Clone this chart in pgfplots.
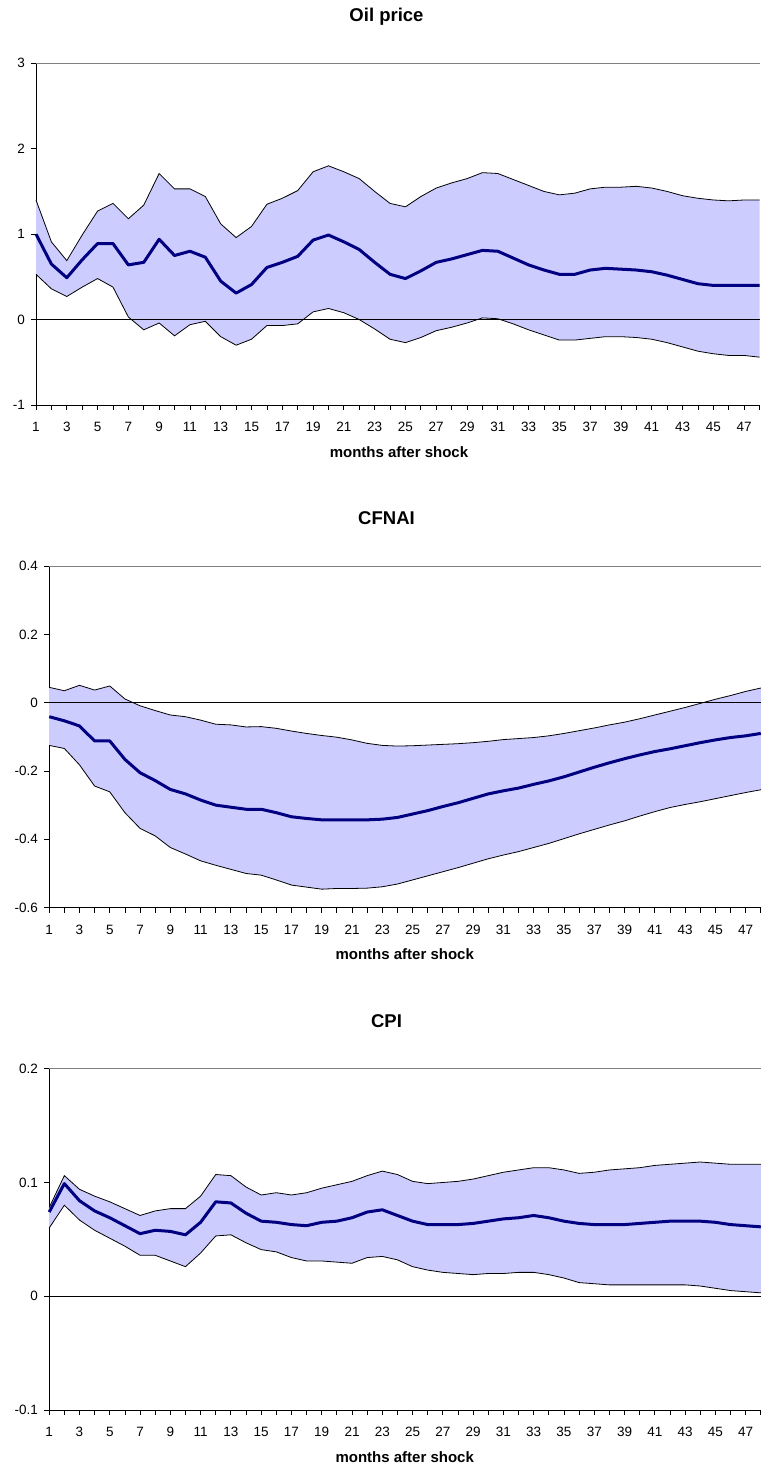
\documentclass[border=0pt]{standalone}
\usepackage{fontspec}
\setmainfont{Liberation Sans}
\usepackage{pgfplots}
\pgfplotsset{compat=1.18}
\usepackage{pgfplotstable}
\usepgfplotslibrary{fillbetween}
\definecolor{bandfill}{RGB}{204,204,255}
\definecolor{navyline}{RGB}{0,0,128}
\definecolor{topgray}{RGB}{128,128,128}

\pgfplotstableread{
m u c l
1 1.40 1.00 0.53
2 0.91 0.65 0.36
3 0.69 0.49 0.27
4 0.99 0.70 0.38
5 1.27 0.89 0.48
6 1.36 0.89 0.38
7 1.18 0.64 0.03
8 1.34 0.67 -0.12
9 1.71 0.94 -0.04
10 1.53 0.75 -0.19
11 1.53 0.80 -0.06
12 1.44 0.73 -0.02
13 1.12 0.45 -0.20
14 0.96 0.31 -0.30
15 1.09 0.41 -0.23
16 1.35 0.61 -0.07
17 1.42 0.67 -0.07
18 1.51 0.74 -0.05
19 1.73 0.93 0.09
20 1.80 0.99 0.13
21 1.73 0.91 0.08
22 1.65 0.82 0.00
23 1.50 0.67 -0.11
24 1.36 0.53 -0.23
25 1.32 0.48 -0.27
26 1.44 0.57 -0.21
27 1.54 0.67 -0.13
28 1.60 0.71 -0.09
29 1.65 0.76 -0.04
30 1.72 0.81 0.02
31 1.71 0.80 0.01
32 1.64 0.72 -0.05
33 1.57 0.64 -0.12
34 1.50 0.58 -0.18
35 1.46 0.53 -0.24
36 1.48 0.53 -0.24
37 1.53 0.58 -0.22
38 1.55 0.60 -0.20
39 1.55 0.59 -0.20
40 1.56 0.58 -0.21
41 1.54 0.56 -0.23
42 1.50 0.52 -0.27
43 1.45 0.47 -0.32
44 1.42 0.42 -0.37
45 1.40 0.40 -0.40
46 1.39 0.40 -0.42
47 1.40 0.40 -0.42
48 1.40 0.40 -0.44
}\oil

\pgfplotstableread{
m u c l
1 0.045 -0.041 -0.125
2 0.035 -0.053 -0.134
3 0.051 -0.068 -0.182
4 0.037 -0.112 -0.244
5 0.049 -0.112 -0.261
6 0.011 -0.166 -0.322
7 -0.009 -0.205 -0.368
8 -0.023 -0.228 -0.390
9 -0.036 -0.254 -0.424
10 -0.041 -0.267 -0.443
11 -0.051 -0.285 -0.463
12 -0.063 -0.300 -0.476
13 -0.065 -0.306 -0.488
14 -0.071 -0.312 -0.500
15 -0.070 -0.312 -0.505
16 -0.075 -0.322 -0.519
17 -0.083 -0.334 -0.534
18 -0.090 -0.339 -0.540
19 -0.096 -0.343 -0.546
20 -0.101 -0.343 -0.544
21 -0.109 -0.343 -0.544
22 -0.119 -0.343 -0.543
23 -0.125 -0.341 -0.539
24 -0.127 -0.336 -0.531
25 -0.126 -0.326 -0.519
26 -0.124 -0.316 -0.507
27 -0.122 -0.304 -0.495
28 -0.120 -0.293 -0.483
29 -0.117 -0.280 -0.470
30 -0.113 -0.267 -0.457
31 -0.108 -0.258 -0.446
32 -0.105 -0.250 -0.436
33 -0.102 -0.239 -0.424
34 -0.097 -0.229 -0.412
35 -0.090 -0.217 -0.398
36 -0.082 -0.203 -0.384
37 -0.074 -0.189 -0.371
38 -0.065 -0.176 -0.358
39 -0.057 -0.164 -0.346
40 -0.047 -0.153 -0.332
41 -0.036 -0.143 -0.319
42 -0.025 -0.135 -0.307
43 -0.014 -0.126 -0.298
44 -0.002 -0.117 -0.290
45 0.010 -0.109 -0.281
46 0.021 -0.102 -0.272
47 0.033 -0.097 -0.263
48 0.043 -0.090 -0.255
}\cfnai

\pgfplotstableread{
m u c l
1 0.078 0.074 0.060
2 0.106 0.099 0.080
3 0.094 0.084 0.067
4 0.088 0.075 0.058
5 0.083 0.069 0.051
6 0.077 0.062 0.044
7 0.071 0.055 0.036
8 0.075 0.058 0.036
9 0.077 0.057 0.031
10 0.077 0.054 0.026
11 0.088 0.065 0.038
12 0.107 0.083 0.053
13 0.106 0.082 0.054
14 0.096 0.073 0.047
15 0.089 0.066 0.041
16 0.091 0.065 0.039
17 0.089 0.063 0.034
18 0.091 0.062 0.031
19 0.095 0.065 0.031
20 0.098 0.066 0.030
21 0.101 0.069 0.029
22 0.106 0.074 0.034
23 0.110 0.076 0.035
24 0.107 0.071 0.032
25 0.101 0.066 0.026
26 0.099 0.063 0.023
27 0.100 0.063 0.021
28 0.101 0.063 0.020
29 0.103 0.064 0.019
30 0.106 0.066 0.020
31 0.109 0.068 0.020
32 0.111 0.069 0.021
33 0.113 0.071 0.021
34 0.113 0.069 0.019
35 0.111 0.066 0.016
36 0.108 0.064 0.012
37 0.109 0.063 0.011
38 0.111 0.063 0.010
39 0.112 0.063 0.010
40 0.113 0.064 0.010
41 0.115 0.065 0.010
42 0.116 0.066 0.010
43 0.117 0.066 0.010
44 0.118 0.066 0.009
45 0.117 0.065 0.007
46 0.116 0.063 0.005
47 0.116 0.062 0.004
48 0.116 0.061 0.003
}\cpi

\pgfplotsset{
  irf/.style={
    scale only axis, clip=false,
    xmin=1, xmax=48,
    axis x line*=bottom, axis y line*=left,
    axis line style={black, line width=1pt},
    tick align=outside, major tick length=5pt,
    tick style={black, line width=0.8pt},
    xtick={1,...,48},
    xticklabels={1,,3,,5,,7,,9,,11,,13,,15,,17,,19,,21,,23,,25,,27,,29,,31,,33,,35,,37,,39,,41,,43,,45,,47,},
    tick label style={font=\fontsize{13.5}{16}\selectfont, inner sep=0pt},
    xticklabel shift=12pt,
    yticklabel shift=6pt,
  },
  edge/.style={black, line width=0.8pt},
  mean/.style={navyline, line width=3pt, line join=round},
}

\begin{document}
\begin{tikzpicture}[x=1pt,y=1pt]

% ---------- Panel 1: Oil price ----------
\begin{axis}[irf, at={(36pt,-405pt)}, anchor=south west,
  width=723.5pt, height=341.7pt,
  ymin=-1, ymax=3, ytick={-1,0,1,2,3}, yticklabels={-1,0,1,2,3}]
\addplot[name path=U1, draw=none] table[x=m,y=u]{\oil};
\addplot[name path=L1, draw=none] table[x=m,y=l]{\oil};
\addplot[bandfill] fill between[of=U1 and L1];
\addplot[edge] table[x=m,y=u]{\oil};
\addplot[edge] table[x=m,y=l]{\oil};
\addplot[black, line width=1pt] coordinates {(1,0) (48,0)};
\addplot[topgray, line width=1pt] coordinates {(1,3) (48,3)};
\addplot[mean] table[x=m,y=c]{\oil};
\end{axis}

% ---------- Panel 2: CFNAI ----------
\begin{axis}[irf, at={(49.2pt,-907.6pt)}, anchor=south west,
  width=711.6pt, height=341.5pt,
  ymin=-0.6, ymax=0.4, ytick={-0.6,-0.4,-0.2,0,0.2,0.4},
  yticklabels={-0.6,-0.4,-0.2,0,0.2,0.4}]
\addplot[name path=U2, draw=none] table[x=m,y=u]{\cfnai};
\addplot[name path=L2, draw=none] table[x=m,y=l]{\cfnai};
\addplot[bandfill] fill between[of=U2 and L2];
\addplot[edge] table[x=m,y=u]{\cfnai};
\addplot[edge] table[x=m,y=l]{\cfnai};
\addplot[black, line width=1pt] coordinates {(1,0) (48,0)};
\addplot[topgray, line width=1pt] coordinates {(1,0.4) (48,0.4)};
\addplot[mean] table[x=m,y=c]{\cfnai};
\end{axis}

% ---------- Panel 3: CPI ----------
\begin{axis}[irf, at={(49.2pt,-1410pt)}, anchor=south west,
  width=711.6pt, height=341.3pt,
  ymin=-0.1, ymax=0.2, ytick={-0.1,0,0.1,0.2},
  yticklabels={-0.1,0,0.1,0.2}]
\addplot[name path=U3, draw=none] table[x=m,y=u]{\cpi};
\addplot[name path=L3, draw=none] table[x=m,y=l]{\cpi};
\addplot[bandfill] fill between[of=U3 and L3];
\addplot[edge] table[x=m,y=u]{\cpi};
\addplot[edge] table[x=m,y=l]{\cpi};
\addplot[black, line width=1pt] coordinates {(1,0) (48,0)};
\addplot[topgray, line width=1pt] coordinates {(1,0.2) (48,0.2)};
\addplot[mean] table[x=m,y=c]{\cpi};
\end{axis}

% titles and axis labels
\node[anchor=base, font=\bfseries\fontsize{18.5}{22}\selectfont] at (386.5,-21.7) {Oil price};
\node[anchor=base, font=\bfseries\fontsize{18.5}{22}\selectfont] at (386.5,-524.5) {CFNAI};
\node[anchor=base, font=\bfseries\fontsize{18.5}{22}\selectfont] at (386.5,-1027) {CPI};
\node[anchor=base, font=\bfseries\fontsize{15}{18}\selectfont] at (399,-457) {months after shock};
\node[anchor=base, font=\bfseries\fontsize{15}{18}\selectfont] at (404.7,-959.3) {months after shock};
\node[anchor=base, font=\bfseries\fontsize{15}{18}\selectfont] at (404.7,-1462) {months after shock};

\path[use as bounding box] (0,0) rectangle (759,-1470);
\end{tikzpicture}
\end{document}
